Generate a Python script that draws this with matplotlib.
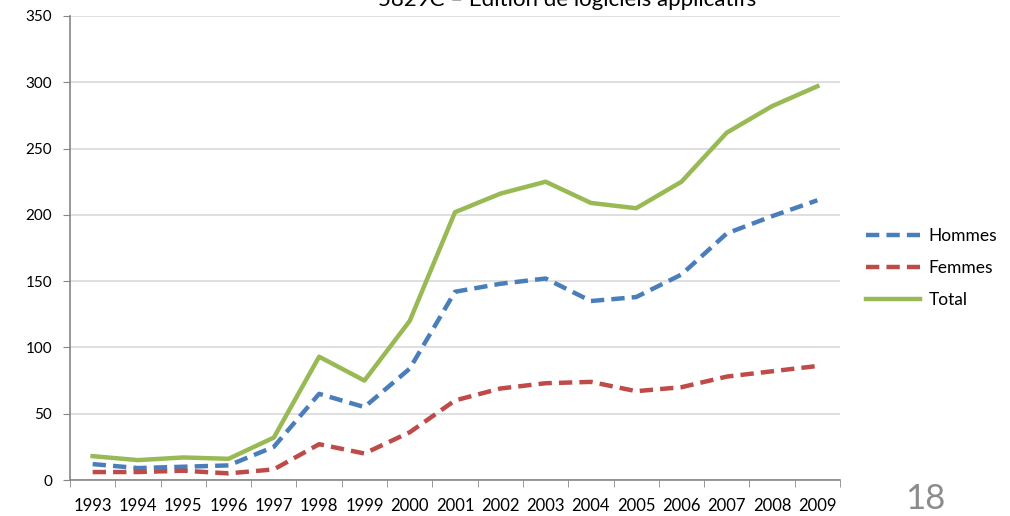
import numpy as np
import matplotlib.pyplot as plt

plt.rcParams['font.family'] = ['Lato', 'DejaVu Sans']

# Data
years = [str(y) for y in range(1993, 2010)]
hommes = [12, 9, 10, 11, 25, 65, 55, 84, 142, 148, 152, 135, 138, 155, 186, 199, 211]
femmes = [6, 6, 7, 5, 8, 27, 20, 36, 60, 69, 73, 74, 67, 70, 78, 82, 86]
total = [18, 15, 17, 16, 32, 93, 75, 120, 202, 216, 225, 209, 205, 225, 262, 282, 297]

fig = plt.figure(figsize=(10.1, 5.16), dpi=100)
ax = fig.add_axes([70 / 1010, 36 / 516, 770 / 1010, 464 / 516])

x = np.arange(len(years))
ax.plot(x, hommes, color='#4a7ebb', lw=3.2, ls=(0, (3, 1.6)), label='Hommes')
ax.plot(x, femmes, color='#be4b48', lw=3.2, ls=(0, (3, 1.6)), label='Femmes')
ax.plot(x, total, color='#98b954', lw=3.2, label='Total')

ax.set_xlim(-0.5, len(years) - 0.5)
ax.set_ylim(0, 350)
ax.set_yticks(range(0, 351, 50))
ax.set_xticks(x)
ax.set_xticklabels(years)
ax.set_xticks(np.arange(-0.5, len(years), 1), minor=True)
ax.tick_params(axis='x', which='major', length=0, pad=13, labelsize=12)
ax.tick_params(axis='x', which='minor', length=5, color='#868686')
ax.tick_params(axis='y', length=5, color='#868686', labelsize=11, pad=8)

ax.grid(axis='y', color='#d9d9d9', lw=1.2)
ax.set_axisbelow(True)
for s in ['top', 'right']:
    ax.spines[s].set_visible(False)
for s in ['left', 'bottom']:
    ax.spines[s].set_color('#868686')
    ax.spines[s].set_linewidth(1.2)

ax.legend(loc='center left', bbox_to_anchor=(1.034, 0.457), frameon=False,
          fontsize=12.5, handlelength=3.1, labelspacing=0.9, handletextpad=0.5,
          borderpad=0, borderaxespad=0)

fig.text(0.562, 0.988, '5829C – Edition de logiciels applicatifs', ha='center',
         va='baseline', fontsize=16)
fig.text(0.916, 0.032, '18', ha='center', va='center', fontsize=25, color='#8c8c8c')

fig.savefig('out.png', dpi=100)
